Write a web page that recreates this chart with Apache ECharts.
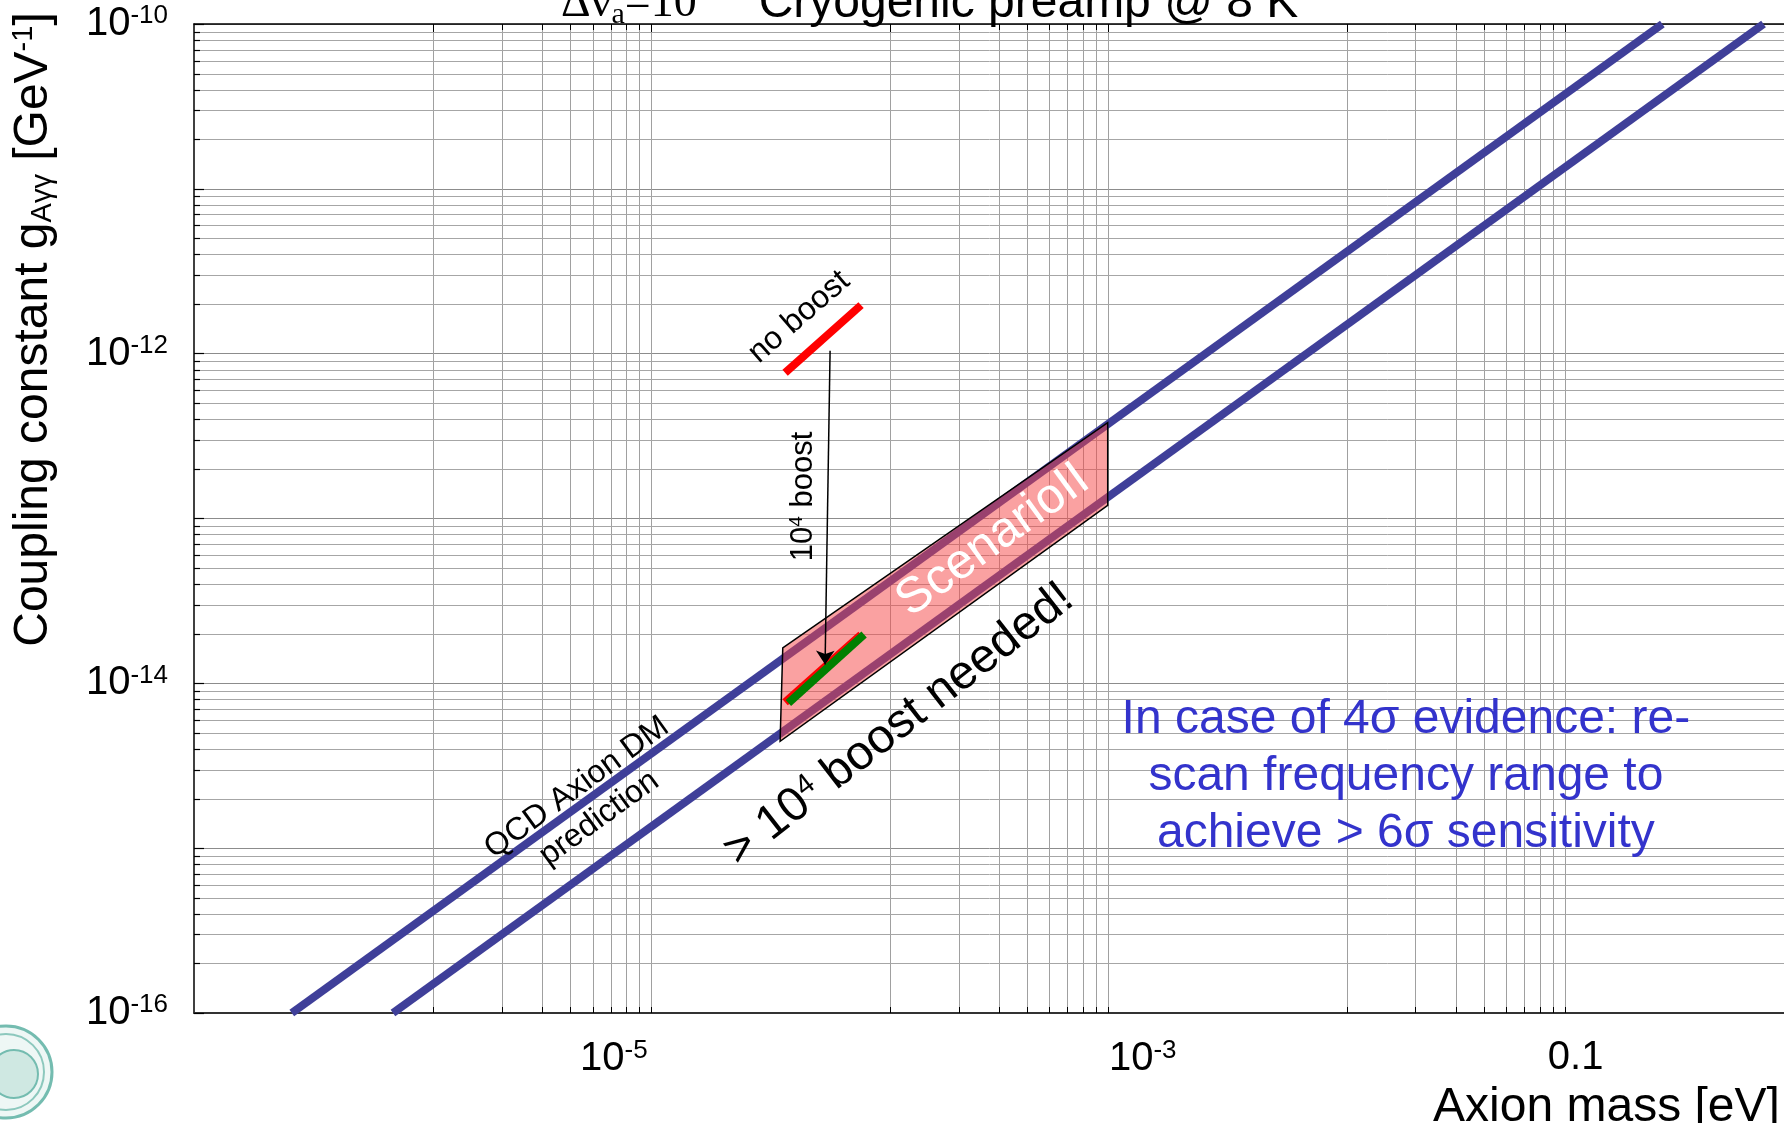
<!DOCTYPE html>
<html><head><meta charset="utf-8">
<script src="https://cdn.jsdelivr.net/npm/echarts@6/dist/echarts.min.js"></script>
<style>html,body{margin:0;padding:0;background:#fff;overflow:hidden}#c{width:1784px;height:1123px}</style>
</head><body><div id="c"></div>
<script>
// ---------- data ----------
const xMin = 1e-7, xMax = 1;          // axion mass [eV]
const yMin = 1e-16, yMax = 1e-10;     // coupling [GeV^-1]
const xLabelExps = [-5, -3, -1];      // labelled x decades (each carries a cluster of 9 grid lines)
const yLabelExps = [-10, -12, -14, -16];
const xClusterSteps = [1, 2, 3, 4, 5, 6, 7, 8, 9];   // x grid lines at (m/9)*10^k
const yMinorMultipliers = [2, 3, 4, 5, 6, 7, 8, 9];
const yDecades = [-16, -15, -14, -13, -12, -11];

const qcdUpper = [[2.68e-7, 1e-16], [0.268, 1e-10]];
const qcdLower = [[7.43e-7, 1e-16], [0.743, 1e-10]];
const scenarioII = [[3.78e-5, 1.64e-14], [1.0e-3, 3.81e-13], [1.0e-3, 1.2e-13], [3.68e-5, 4.45e-15]];
const noBoost = [[3.87e-5, 7.67e-13], [8.32e-5, 1.97e-12]];
const boostedRed = [[3.87e-5, 7.67e-15], [8.32e-5, 1.97e-14]];
const boostedGreen = [[4.0e-5, 7.6e-15], [8.58e-5, 1.98e-14]];
const boostArrow = [[6.09e-5, 1.04e-12], [5.79e-5, 1.30e-14]];

// ---------- annotations (anchored in data space) ----------
const SANS = 'Liberation Sans, Arial, Helvetica, sans-serif';
const SERIF = 'Liberation Serif, Times New Roman, serif';
const annotations = [
  {at: [3.15e-4, 7.35e-14], rot: 36, text: 'ScenarioII', size: 50, color: '#ffffff'},
  {at: [4.46e-5, 1.67e-12], rot: 41, text: 'no boost', size: 32, color: '#000000'},
  {at: [4.64e-5, 1.36e-13], rot: 90, text: '10{sup|4} boost', size: 31, color: '#000000', supSize: 19},
  {at: [5.31e-6, 1.88e-15], rot: 36, text: 'QCD Axion DM\nprediction', size: 32, color: '#000000', lh: 38},
  {at: [1.22e-4, 5.61e-15], rot: 38, text: '> 10{sup|4} boost needed!', size: 48, color: '#000000', supSize: 29},
  {at: [2.02e-2, 2.71e-15], rot: 0, text: 'In case of 4σ evidence: re-\nscan frequency range to\nachieve > 6σ sensitivity', size: 48, color: '#3333cc', lh: 57}
];

const chart = echarts.init(document.getElementById('c'), null, {width: 1784, height: 1123});

function expOf(v) { return Math.round(Math.log10(v)); }

const labelRich = {
  b: {fontSize: 40, fontFamily: SANS, color: '#000'},
  s: {fontSize: 26, fontFamily: SANS, color: '#000', padding: [0, 0, 16, 0]},
  g74: {width: 74}, g70: {width: 70}, g22: {width: 22}
};

function renderGrid(params, api) {
  const bl = api.coord([xMin, yMin]);
  const tr = api.coord([xMax, yMax]);
  const left = bl[0], bottom = bl[1], right = tr[0], top = tr[1];
  const children = [];
  const L = (x1, y1, x2, y2, stroke, w) => children.push({type: 'line', shape: {x1, y1, x2, y2}, style: {stroke, lineWidth: w}});
  // vertical grid: clusters of 9 lines ending at each labelled decade
  xLabelExps.forEach(k => xClusterSteps.forEach(m => {
    const x = Math.round(api.coord([Math.pow(10, k) * m / 9, yMin])[0]) + 0.5;
    L(x, top, x, bottom, '#a0a0a0', 1);
    const len = (m === 9 || m === 1) ? 9 : 6;
    L(x, bottom, x, bottom - 6, '#000', 1);
    L(x, top, x, top + len, '#000', 1);
  }));
  // horizontal minor grid
  yDecades.forEach(d => yMinorMultipliers.forEach(m => {
    const y = Math.round(api.coord([xMin, m * Math.pow(10, d)])[1]) + 0.5;
    L(left, y, right, y, '#a6a6a6', 1);
    L(left, y, left + 6, y, '#000', 1.2);
  }));
  return {type: 'group', children};
}

function renderPolygon(params, api) {
  if (params.dataIndex !== 0) return null;
  const pts = scenarioII.map(p => api.coord(p));
  return {type: 'polygon', shape: {points: pts},
    style: {fill: 'rgba(246,68,68,0.5)', stroke: '#000', lineWidth: 1.5}};
}

function renderAnnotation(params, api) {
  const a = annotations[params.dataIndex];
  const p = api.coord([api.value(0), api.value(1)]);
  const sup = a.supSize || Math.round(a.size * 0.6);
  return {
    type: 'text', x: p[0], y: p[1], rotation: a.rot * Math.PI / 180,
    style: {
      text: a.text, fill: a.color, fontSize: a.size, fontFamily: SANS,
      align: 'center', verticalAlign: 'middle', lineHeight: a.lh || a.size * 1.15,
      rich: {sup: {fontSize: sup, fontFamily: SANS, fill: a.color, padding: [0, 0, Math.round(a.size * 0.4), 0]}}
    }
  };
}

const lineSeries = (data, color, width, z) => ({
  type: 'line', data, symbol: 'none', clip: true, silent: true, z,
  lineStyle: {color, width, cap: 'butt'}
});

chart.setOption({
  animation: false,
  backgroundColor: '#fff',
  grid: {left: 194, top: 24, width: 1599, height: 989, containLabel: false, outerBoundsMode: 'none'},
  xAxis: [{
    type: 'log', logBase: 10, min: xMin, max: xMax, splitNumber: 7,
    axisLine: {show: true, onZero: false, lineStyle: {color: '#333', width: 2}},
    axisTick: {show: false},
    splitLine: {show: false},
    axisLabel: {
      show: true, margin: 25, showMinLabel: true, showMaxLabel: true, hideOverlap: false,
      formatter: v => {
        const e = expOf(v);
        if (e === -5) return '{b|10}{s|-5}{g74|}';
        if (e === -3) return '{g70|}{b|10}{s|-3}';
        if (e === -1) return '{g22|}{b|0.1}';
        return '';
      },
      rich: labelRich
    },
    name: '{g1226|}Axion mass [eV]', nameLocation: 'middle', nameGap: 63,
    nameTextStyle: {fontSize: 48, fontFamily: SANS, color: '#000', rich: {g1226: {width: 1226}}}
  }, {
    type: 'log', logBase: 10, min: xMin, max: xMax, splitNumber: 7, position: 'top',
    axisLine: {show: true, onZero: false, lineStyle: {color: '#000', width: 1.5}},
    axisTick: {show: false}, splitLine: {show: false}, axisLabel: {show: false}
  }],
  yAxis: [{
    type: 'log', logBase: 10, min: yMin, max: yMax, splitNumber: 6,
    axisLine: {show: true, onZero: false, lineStyle: {color: '#000', width: 1.5}},
    axisTick: {show: true, inside: true, length: 10, lineStyle: {color: '#000', width: 1.2}},
    splitLine: {show: true, lineStyle: {color: '#8c8c8c', width: 1}},
    axisLabel: {
      show: true, margin: 26, showMinLabel: true, showMaxLabel: true, hideOverlap: false,
      formatter: v => {
        const e = expOf(v);
        return yLabelExps.includes(e) ? '{b|10}{s|' + e + '}' : '';
      },
      rich: labelRich
    },
    name: '{g378|}Coupling constant g{sub|Aγγ} [GeV{sup|-1}]', nameLocation: 'middle', nameRotate: 90, nameGap: 136,
    nameTextStyle: {fontSize: 48, fontFamily: SANS, color: '#000', rich: {
      g378: {width: 378},
      sub: {fontSize: 29, fontFamily: SANS, color: '#000', padding: [18, 0, 0, 0]},
      sup: {fontSize: 29, fontFamily: SANS, color: '#000', padding: [0, 0, 20, 0]}
    }}
  }],
  graphic: [
    {type: 'text', x: 561, y: 30, z: 10, silent: true,
     style: {text: '{d|Δν}{sub|a}{d|=10}{gap|}Cryogenic preamp @ 8 K', fontSize: 48, fontFamily: SANS, fill: '#000',
       align: 'left', verticalAlign: 'bottom',
       rich: {
         d: {fontSize: 46, fontFamily: SERIF, fill: '#000'},
         sub: {fontSize: 30, fontFamily: SERIF, fill: '#000', padding: [22, 0, 0, 0]},
         gap: {width: 62}
       }}},
    {type: 'group', x: 6, y: 1072, silent: true, children: [
      {type: 'circle', shape: {cx: 0, cy: 0, r: 46}, style: {fill: '#eef7f5', stroke: '#74bcb0', lineWidth: 3}},
      {type: 'circle', shape: {cx: 0, cy: 0, r: 38}, style: {fill: 'none', stroke: '#8cc8bd', lineWidth: 2}},
      {type: 'circle', shape: {cx: 8, cy: 2, r: 24}, style: {fill: '#cfe8e2', stroke: '#74bcb0', lineWidth: 2}}
    ]}
  ],
  series: [
    {type: 'custom', coordinateSystem: 'cartesian2d', renderItem: renderGrid, data: [[xMin, yMin]], silent: true, z: 1},
    lineSeries(qcdUpper, '#3f3f99', 8, 2),
    lineSeries(qcdLower, '#3f3f99', 8, 2),
    {type: 'custom', coordinateSystem: 'cartesian2d', renderItem: renderPolygon, data: scenarioII, silent: true, z: 3},
    lineSeries(noBoost, '#ff0000', 8, 4),
    lineSeries(boostedRed, '#ff0000', 8, 4),
    lineSeries(boostedGreen, '#008000', 8, 5),
    {type: 'lines', coordinateSystem: 'cartesian2d', silent: true, z: 6,
     symbol: ['none', 'arrow'], symbolSize: [0, 14],
     lineStyle: {color: '#000', width: 1.5, opacity: 1, curveness: 0},
     data: [{coords: boostArrow}]},
    {type: 'custom', coordinateSystem: 'cartesian2d', renderItem: renderAnnotation,
     data: annotations.map(a => a.at), silent: true, z: 7}
  ]
});
</script></body></html>
